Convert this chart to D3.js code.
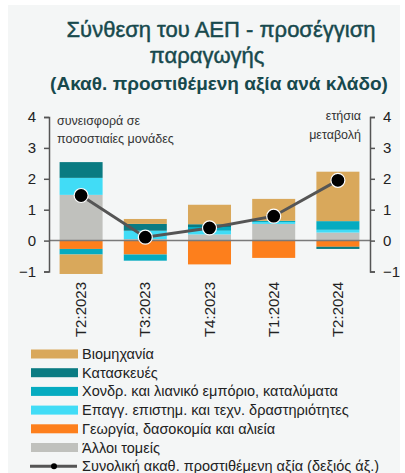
<!DOCTYPE html>
<html><head><meta charset="utf-8">
<script src="https://cdn.jsdelivr.net/npm/d3@7"></script>
<style>body{margin:0;background:#fff}svg{display:block}text{font-family:"Liberation Sans",Arial,sans-serif}</style>
</head><body><svg id="c" width="405" height="473"></svg>
<script>
const categories = ["T2:2023","T3:2023","T4:2023","T1:2024","T2:2024"];
const seriesNames = ["Γεωργία, δασοκομία και αλιεία","Άλλοι τομείς","Επαγγ. επιστημ. και τεχν. δραστηριότητες","Χονδρ. και λιανικό εμπόριο, καταλύματα","Κατασκευές","Βιομηχανία"];
const agriculture = [-0.27,-0.45,-0.77,-0.56,-0.20];
const others = [1.48,0.05,0.20,0.54,0.26];
const professional = [0.55,0.27,0.12,0.06,0.09];
const trade = [-0.18,-0.20,0.12,0.04,0.28];
const construction = [0.51,0.22,0.09,0.00,-0.07];
const industry = [-0.63,0.16,0.63,0.71,1.60];
const totalGVA = [1.46,0.11,0.41,0.79,1.95];
const yTicks = [-1,0,1,2,3,4];
const legendOrder = ["Βιομηχανία","Κατασκευές","Χονδρ. και λιανικό εμπόριο, καταλύματα","Επαγγ. επιστημ. και τεχν. δραστηριότητες","Γεωργία, δασοκομία και αλιεία","Άλλοι τομείς"];
const lineName = "Συνολική ακαθ. προστιθέμενη αξία (δεξιός άξ.)";

const colors = {
 "Γεωργία, δασοκομία και αλιεία":"#fd7f1c",
 "Άλλοι τομείς":"#c0c1bd",
 "Επαγγ. επιστημ. και τεχν. δραστηριότητες":"#41dcf6",
 "Χονδρ. και λιανικό εμπόριο, καταλύματα":"#05abc0",
 "Κατασκευές":"#0a7b82",
 "Βιομηχανία":"#d9a85b"
};
const valuesBy = [agriculture,others,professional,trade,construction,industry];
const table = categories.map((c,i)=>{const o={cat:c};seriesNames.forEach((s,j)=>o[s]=valuesBy[j][i]);return o;});

const svg = d3.select("#c");
svg.append("rect").attr("x",8).attr("y",5).attr("width",392).attr("height",468).attr("fill","#f4f6f6");

const title = svg.append("g").attr("fill","#17494d").attr("text-anchor","middle").style("font-family","'Open Sans', sans-serif");
title.append("text").attr("x",221).attr("y",37).attr("font-size",22).attr("stroke","#17494d").attr("stroke-width",0.45).text("Σύνθεση του ΑΕΠ - προσέγγιση");
title.append("text").attr("x",207).attr("y",63).attr("font-size",22).attr("stroke","#17494d").attr("stroke-width",0.45).text("παραγωγής");
title.append("text").attr("x",219).attr("y",90).attr("font-size",19).attr("font-weight",600).text("(Ακαθ. προστιθέμενη αξία ανά κλάδο)");

const left=49,right=370;
const x = d3.scaleBand().domain(categories).range([left,right]).paddingInner(0.33).paddingOuter(0.165);
const y = d3.scaleLinear().domain([-1,4]).range([271.5,117]);

const stack = d3.stack().keys(seriesNames).offset(d3.stackOffsetDiverging)(table);
svg.append("g").selectAll("g").data(stack).join("g").attr("fill",d=>colors[d.key])
 .selectAll("rect").data(d=>d).join("rect")
 .attr("x",d=>x(d.data.cat)).attr("width",x.bandwidth())
 .attr("y",d=>y(Math.max(d[0],d[1]))).attr("height",d=>Math.abs(y(d[0])-y(d[1])));

svg.append("line").attr("x1",left).attr("x2",right).attr("y1",y(0)).attr("y2",y(0)).attr("stroke","#7a7a7a").attr("stroke-width",1.5);

function styleAxis(g){g.select(".domain").attr("stroke","#555").attr("stroke-width",1.5);
 g.selectAll(".tick line").attr("stroke","#555").attr("stroke-width",1.5);
 g.selectAll(".tick text").attr("font-size",15).attr("fill","#222").attr("font-family","Liberation Sans, Arial, sans-serif");}
svg.append("g").attr("transform",`translate(${left},0)`).call(d3.axisLeft(y).tickValues(yTicks).tickFormat(d3.format("d")).tickSize(5).tickPadding(8).tickSizeOuter(5)).call(styleAxis);
svg.append("g").attr("transform",`translate(${right},0)`).call(d3.axisRight(y).tickValues(yTicks).tickFormat(d3.format("d")).tickSize(5).tickPadding(8).tickSizeOuter(5)).call(styleAxis);

const xa = svg.append("g");
categories.forEach(c=>{
 xa.append("text").attr("transform",`translate(${x(c)+x.bandwidth()/2+5},282) rotate(-90)`).attr("text-anchor","end")
  .attr("font-size",15).attr("fill","#222").text(c);
});

const ann = svg.append("g").attr("font-size",12.5).attr("fill","#333");
ann.append("text").attr("x",57).attr("y",125).text("συνεισφορά σε");
ann.append("text").attr("x",57).attr("y",143).text("ποσοστιαίες μονάδες");
ann.append("text").attr("x",361).attr("y",120).attr("text-anchor","end").text("ετήσια");
ann.append("text").attr("x",361).attr("y",139).attr("text-anchor","end").text("μεταβολή");

const cx = c=>x(c)+x.bandwidth()/2;
svg.append("path").datum(totalGVA).attr("fill","none").attr("stroke","#555").attr("stroke-width",3)
 .attr("d",d3.line().x((d,i)=>cx(categories[i])).y(d=>y(d)));
svg.append("g").selectAll("circle").data(totalGVA).join("circle")
 .attr("cx",(d,i)=>cx(categories[i])).attr("cy",d=>y(d)).attr("r",7).attr("fill","#000").attr("stroke","#fff").attr("stroke-width",1.2);

const lg = svg.append("g");
legendOrder.forEach((s,i)=>{
 const yy = 354+i*18.7;
 lg.append("rect").attr("x",31).attr("y",yy-4.5).attr("width",47).attr("height",9).attr("fill",colors[s]);
 lg.append("text").attr("x",82).attr("y",yy+5).attr("font-size",14.5).attr("fill","#222").text(s);
});
const ly = 354+6*18.7;
lg.append("line").attr("x1",30).attr("x2",77).attr("y1",ly).attr("y2",ly).attr("stroke","#555").attr("stroke-width",3);
lg.append("circle").attr("cx",54).attr("cy",ly).attr("r",3).attr("fill","#000");
lg.append("text").attr("x",82).attr("y",ly+5).attr("font-size",14.5).attr("fill","#222").text(lineName);
</script></body></html>
